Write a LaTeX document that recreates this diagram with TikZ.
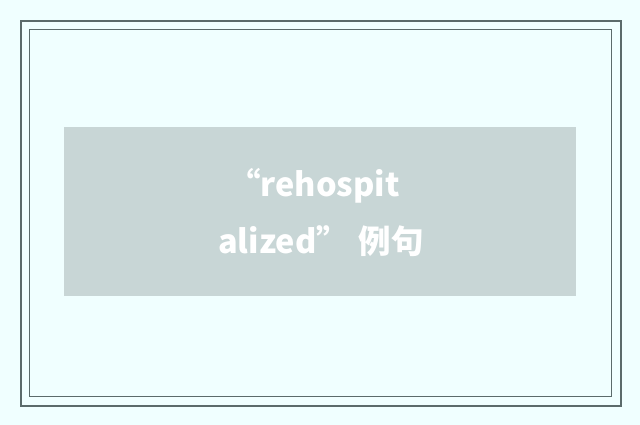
\documentclass[tikz,border=0pt]{standalone}
\usepackage{fontspec}
\newfontfamily\cjk{Noto Sans CJK SC}
\usepackage{tikz}
\usetikzlibrary{positioning}
\definecolor{bgazure}{HTML}{F0FFFF}
\definecolor{frameline}{HTML}{5B6B6B}
\definecolor{boxgray}{HTML}{C8D6D6}
\tikzset{
    frameout/.style={
        rectangle,
        draw=frameline,
        line width=2pt,
        minimum width=600pt,
        minimum height=385pt,
        inner sep=0pt,
    },
    framein/.style={
        rectangle,
        draw=frameline,
        line width=1pt,
        minimum width=582pt,
        minimum height=367pt,
        inner sep=0pt,
    },
    banner/.style={
        rectangle,
        fill=boxgray,
        minimum width=512pt,
        minimum height=169pt,
        inner sep=0pt,
    },
    caption/.style={
        align=center,
        text=white,
        font=\cjk\bfseries\fontsize{32.5pt}{57pt}\selectfont,
    },
  }

\begin{document}
\begin{tikzpicture}[x=1pt,y=-1pt]
              \fill[bgazure] (0,0) rectangle (640,425);
              \useasboundingbox (0,0) rectangle (640,425);
              \node [frameout] (outer) at (321,213.5) {};
              \node [framein] (inner) at (320.5,213) {};
              \node [banner] (box) at (320,211.5) {};
              \node [caption] (title) at (321,213) {“rehospit\hspace*{14pt}\\alized”\hspace{0.3em}例句};
            \end{tikzpicture}
\end{document}
